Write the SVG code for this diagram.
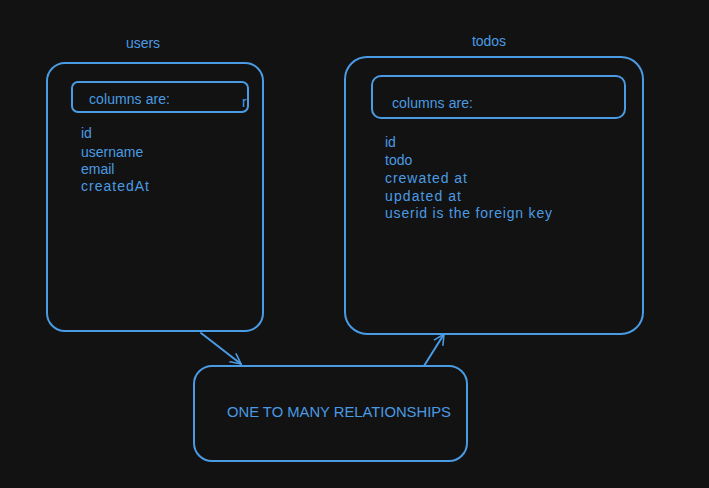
<svg xmlns="http://www.w3.org/2000/svg" width="709" height="488" viewBox="0 0 709 488">
<defs>
<style>
.box{fill:none;stroke:#4a9be3;stroke-width:2}
.t{fill:#4a9be3;font-family:"Liberation Sans",Arial,sans-serif;font-size:14px}
.title{fill:#4a9be3;font-family:"Liberation Sans",Arial,sans-serif;font-size:14px;text-anchor:middle}
.conn{fill:none;stroke:#4a9be3;stroke-width:2;stroke-linecap:round;stroke-linejoin:round}
</style>
<marker id="arr" viewBox="0 0 12 12" refX="11" refY="6" markerWidth="12" markerHeight="12" markerUnits="userSpaceOnUse" orient="auto">
<path d="M1,1 L11,6 L1,11" fill="none" stroke="#4a9be3" stroke-width="1.6" stroke-linecap="round"/>
</marker>
</defs>
<rect width="709" height="488" fill="#121212"/>
<g id="users">
<text class="title" x="143" y="48">users</text>
<rect class="box" x="47" y="63" width="216" height="268" rx="18"/>
<rect class="box" x="72" y="82" width="176" height="30" rx="6"/>
<text class="t" x="89" y="104" textLength="81" lengthAdjust="spacing">columns are:</text>
<text class="t" x="242" y="107" font-size="11">r</text>
<text class="t" x="81" y="138">id</text>
<text class="t" x="81" y="157">username</text>
<text class="t" x="81" y="174">email</text>
<text class="t" x="81" y="191" textLength="68" lengthAdjust="spacing">createdAt</text>
</g>
<g id="todos">
<text class="title" x="489" y="46">todos</text>
<rect class="box" x="345" y="57" width="298" height="277" rx="22"/>
<rect class="box" x="372" y="76" width="253" height="42" rx="9"/>
<text class="t" x="392" y="108" textLength="81" lengthAdjust="spacing">columns are:</text>
<text class="t" x="385" y="147">id</text>
<text class="t" x="385" y="165">todo</text>
<text class="t" x="385" y="183" textLength="82" lengthAdjust="spacing">crewated at</text>
<text class="t" x="385" y="201" textLength="76" lengthAdjust="spacing">updated at</text>
<text class="t" x="385" y="218" textLength="167" lengthAdjust="spacing">userid is the foreign key</text>
</g>
<g id="relation">
<rect class="box" x="194" y="366" width="273" height="95" rx="18"/>
<text class="t" x="227" y="417" font-size="13" textLength="224" lengthAdjust="spacingAndGlyphs">ONE TO MANY RELATIONSHIPS</text>
</g>
<g id="connectors">
<path class="conn" d="M201,333 L241,364" marker-end="url(#arr)"/>
<path class="conn" d="M424,366 L444,334" marker-end="url(#arr)"/>
</g>
</svg>
